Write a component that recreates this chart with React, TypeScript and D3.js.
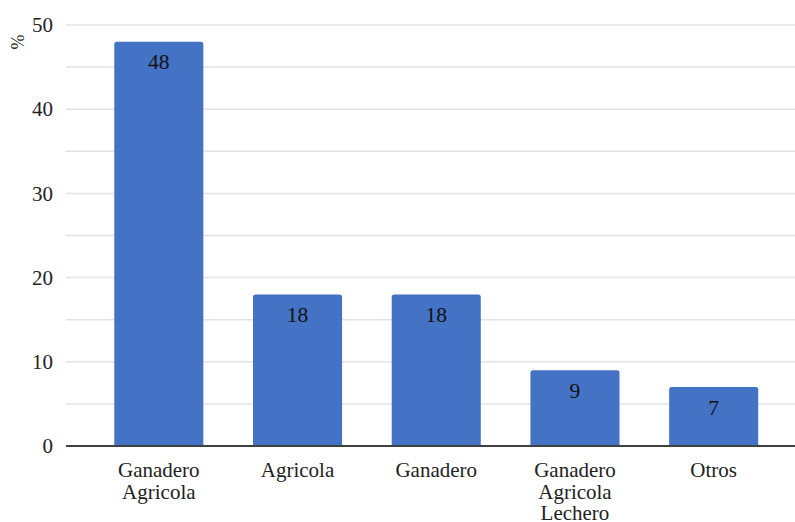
import React from "react";
import * as d3 from "d3";

const categories: string[][] = [
  ["Ganadero", "Agricola"],
  ["Agricola"],
  ["Ganadero"],
  ["Ganadero", "Agricola", "Lechero"],
  ["Otros"],
];
const values: number[] = [48, 18, 18, 9, 7];
const gridValues: number[] = [5, 10, 15, 20, 25, 30, 35, 40, 45, 50];
const tickLabels: number[] = [0, 10, 20, 30, 40, 50];
const yLabel = "%";

const W = 795;
const H = 522;
const FONT = "Liberation Serif";

export default function App() {
  const keys = categories.map((c) => c.join(" "));
  const x = d3
    .scaleBand<string>()
    .domain(keys)
    .range([66, 806.5])
    .paddingInner(0.358)
    .paddingOuter(0.348);
  const y = d3.scaleLinear().domain([0, 50]).range([446, 25]);
  const bw = x.bandwidth();
  const ts = { fontFamily: FONT };

  return (
    <svg
      width={W}
      height={H}
      style={{ position: "absolute", left: 0, top: 0, background: "#fff" }}
    >
      {gridValues.map((g) => (
        <line
          key={g}
          x1={66}
          x2={W}
          y1={y(g)}
          y2={y(g)}
          stroke="#e3e3e3"
          strokeWidth={1.5}
        />
      ))}
      {tickLabels.map((t) => (
        <text
          key={t}
          x={53}
          y={y(t)}
          dy="0.34em"
          textAnchor="end"
          fontSize={21}
          fill="#222"
          fontFamily={FONT}
          style={ts}
        >
          {t}
        </text>
      ))}
      <text
        transform={`translate(24,42) rotate(-90)`}
        textAnchor="middle"
        fontSize={18}
        fill="#222"
        fontFamily={FONT}
        style={ts}
      >
        {yLabel}
      </text>
      {values.map((v, i) => {
        const x0 = x(keys[i])!;
        const top = y(v);
        const bottom = y(0);
        const r = 2.5;
        const path = `M${x0},${bottom} L${x0},${top + r} Q${x0},${top} ${x0 + r},${top} L${x0 + bw - r},${top} Q${x0 + bw},${top} ${x0 + bw},${top + r} L${x0 + bw},${bottom} Z`;
        return (
          <g key={keys[i]}>
            <path d={path} fill="#4472C4" />
            <text
              x={x0 + bw / 2}
              y={top + 27.5}
              textAnchor="middle"
              fontSize={21.5}
              fill="#111"
              fontFamily={FONT}
              style={ts}
            >
              {v}
            </text>
          </g>
        );
      })}
      <line x1={66} x2={W} y1={446} y2={446} stroke="#404040" strokeWidth={2} />
      {categories.map((lines, i) => (
        <text
          key={keys[i]}
          x={x(keys[i])! + bw / 2}
          y={477}
          textAnchor="middle"
          fontSize={21}
          fill="#222"
          fontFamily={FONT}
          style={ts}
        >
          {lines.map((l, j) => (
            <tspan key={j} x={x(keys[i])! + bw / 2} dy={j === 0 ? 0 : 21.7}>
              {l}
            </tspan>
          ))}
        </text>
      ))}
    </svg>
  );
}
